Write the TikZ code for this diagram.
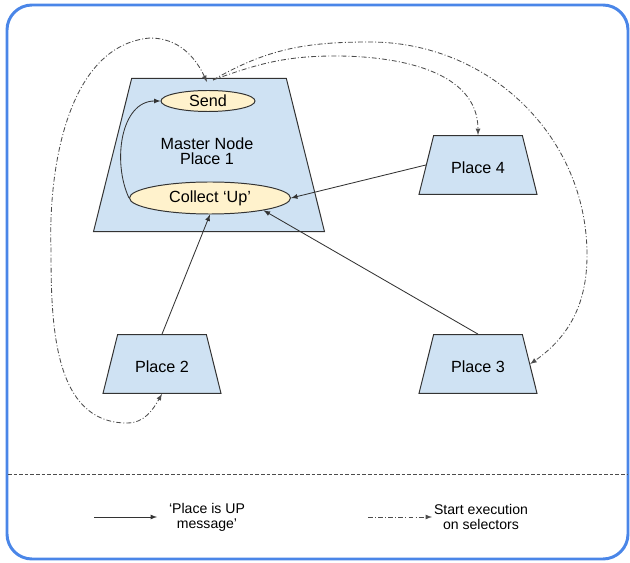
\documentclass[tikz,border=0pt]{standalone}
\usepackage{fontspec}
\setmainfont{Liberation Sans}
\usepackage{tikz}
\usetikzlibrary{shapes.geometric}
\definecolor{placeblue}{HTML}{CFE2F3}
\definecolor{taskyellow}{HTML}{FFF2CC}
\definecolor{frameblue}{HTML}{4A86E8}
\definecolor{edgegray}{HTML}{333333}
\tikzstyle{place}=[trapezium,trapezium left angle=76,trapezium right angle=76,trapezium stretches body,draw=edgegray,fill=placeblue,line width=0.7pt,minimum width=2.95cm,text height=12.2pt,text depth=0pt,inner ysep=14.8pt,font=\fontsize{11.5}{11}\selectfont,align=center]
\tikzstyle{task}=[ellipse,draw=edgegray,fill=taskyellow,line width=0.7pt,inner sep=0pt,font=\fontsize{11.5}{11}\selectfont]
\tikzstyle{upmsg}=[->,edgegray,line width=0.6pt,>=latex]
\tikzstyle{startD}=[->,black!70,line width=0.6pt,>=latex,dash pattern=on 3.5pt off 1.5pt on 0.7pt off 1.5pt]
\tikzstyle{legend}=[align=center,font=\fontsize{10}{10.5}\selectfont]

\begin{document}
\begin{tikzpicture}[x=0.025cm,y=0.025cm]

  \useasboundingbox (0,0) rectangle (630,-563);
  \draw[frameblue,line width=2.1pt,rounded corners=0.625cm] (7,-5) rectangle (628,-559);

  \node[place,minimum width=5.775cm,text height=0pt,inner ysep=54.55pt] (Master) at (209,-155) {};
  \node[align=center,font=\fontsize{11.5}{11}\selectfont] (MasterLbl) at (207,-151) {Master Node\\Place 1};
  \node[task,minimum width=2.35cm,minimum height=0.525cm] (Send) at (208,-101) {Send};
  \node[task,minimum width=4.025cm,minimum height=0.8cm] (Collect) at (210,-198) {Collect ‘Up’};
  \node[place] (Place4) at (478,-165) {Place 4};
  \node[place] (Place3) at (478,-364) {Place 3};
  \node[place] (Place2) at (162,-364) {Place 2};
  \coordinate (sendin) at (207,-82);
  \coordinate (sendout) at (213,-80);

  \draw[upmsg] (Place4.west)--(Collect.east); \draw[upmsg] (Place3.north)--(Collect.-13); \draw[upmsg] (Place2.north)--(Collect.south);
  \draw[upmsg] (Collect.west) to[out=115,in=180] (Send.west);
  \draw[startD,<->] (sendin) to[out=115,in=0] (150,-38) to[out=185,in=92,looseness=0.9] (51,-250) to[out=-90,in=180] (127,-423) to[out=0,in=-120] (Place2.south);
  \draw[startD] (sendout) to[out=20,in=180] (335,-56) to[out=0,in=90] (Place4.north);
  \draw[startD] (sendout) to[out=30,in=180] (370,-42) to[out=0,in=90] (587,-255) to[out=-90,in=35] (Place3.east);
  % legend
  \draw[black!70,dash pattern=on 2.5pt off 1.5pt] (8,-474)--(627,-474);
  \coordinate (k1a) at (94,-517); \coordinate (k1b) at (157,-517);
  \coordinate (k2a) at (368,-517); \coordinate (k2b) at (432,-517);
  \draw[upmsg] (k1a)--(k1b);
  \node[legend] (k1) at (207,-517) {‘Place is UP\\message’};
  \draw[startD] (k2a)--(k2b);
  \node[legend] (k2) at (481,-517) {Start execution\\on selectors};

\end{tikzpicture}
\end{document}
